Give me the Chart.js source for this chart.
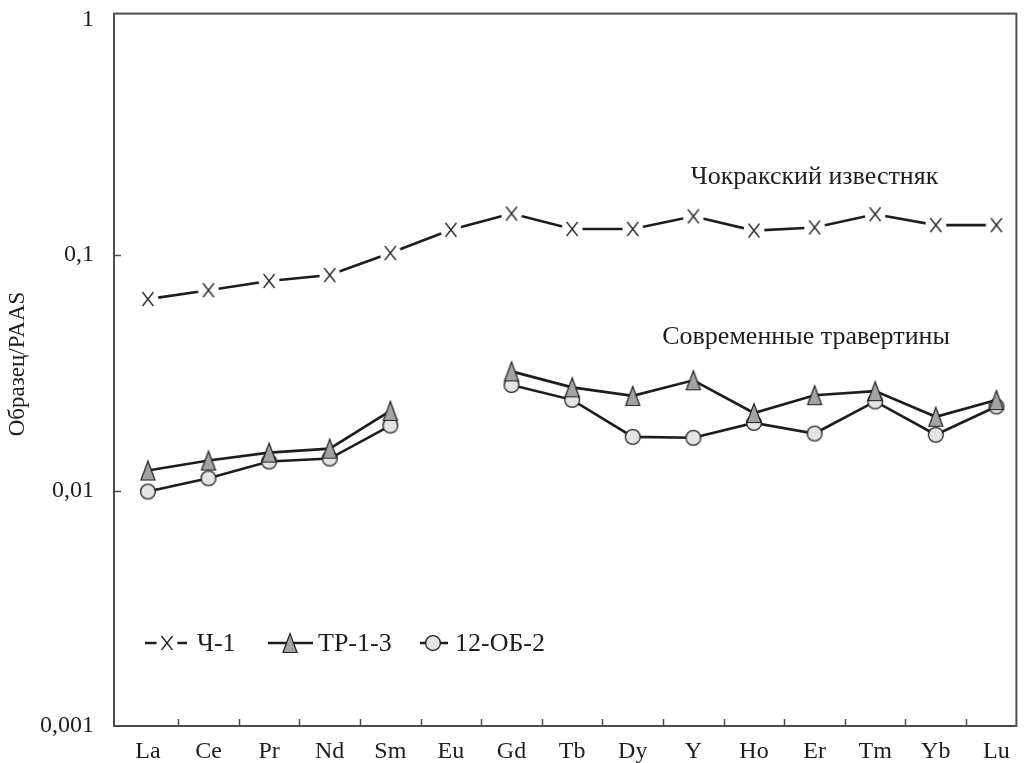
<!DOCTYPE html>
<html>
<head>
<meta charset="utf-8">
<script src="https://cdn.jsdelivr.net/npm/chart.js@4.4.0/dist/chart.umd.min.js"></script>
<style>
  html, body { margin: 0; padding: 0; background: #ffffff; }
  #wrap { width: 1030px; height: 763px; position: relative; }
</style>
</head>
<body>
<div id="wrap"><canvas id="chart"></canvas></div>
<script>
// REE elements along the horizontal axis
const elements = ['La', 'Ce', 'Pr', 'Nd', 'Sm', 'Eu', 'Gd', 'Tb', 'Dy', 'Y', 'Ho', 'Er', 'Tm', 'Yb', 'Lu'];

// Sample / PAAS normalised concentrations
const ch1   = [0.065, 0.0709, 0.0776, 0.0822, 0.102, 0.128, 0.150, 0.129, 0.129, 0.146, 0.127, 0.131, 0.149, 0.134, 0.134];
const tr13  = [0.01216, 0.01341, 0.01449, 0.01506, 0.02178, null, 0.03206, 0.02742, 0.02523, 0.02938, 0.02134, 0.0254, 0.02642, 0.02056, 0.02421];
const ob12  = [0.0099, 0.01127, 0.01328, 0.01367, 0.01888, null, 0.02806, 0.02427, 0.0169, 0.01675, 0.01937, 0.01746, 0.02389, 0.01725, 0.02275];

// Logarithmic axis ticks and their labels
const yTickValues = [0.001, 0.01, 0.1, 1];
const yTickLabels = ['0,001', '0,01', '0,1', '1'];

const seriesNames = ['Ч-1', 'ТР-1-3', '12-ОБ-2'];
const groupLabels = ['Чокракский известняк', 'Современные травертины'];

const FONT = '"Liberation Serif", "Times New Roman", serif';
const INK = '#1d1d1d';
const FRAME = '#4d4d4d';

// Marker images
function makeCross() {
  const c = document.createElement('canvas');
  c.width = 22; c.height = 22;
  const g = c.getContext('2d');
  g.fillStyle = '#ffffff';
  g.beginPath(); g.arc(11, 11, 10.5, 0, Math.PI * 2); g.fill();
  g.strokeStyle = '#222222';
  g.lineWidth = 1.3;
  g.beginPath();
  g.moveTo(5.5, 4); g.lineTo(16.5, 18);
  g.moveTo(16.5, 4); g.lineTo(5.5, 18);
  g.stroke();
  return c;
}
function makeTriangle() {
  const c = document.createElement('canvas');
  c.width = 18; c.height = 24;
  const g = c.getContext('2d');
  g.fillStyle = '#a3a3a3';
  g.strokeStyle = '#222222';
  g.lineWidth = 1.2;
  g.beginPath();
  g.moveTo(9, 2.5); g.lineTo(16, 21.5); g.lineTo(2, 21.5); g.closePath();
  g.fill(); g.stroke();
  return c;
}
function makeCircle() {
  const c = document.createElement('canvas');
  c.width = 18; c.height = 18;
  const g = c.getContext('2d');
  g.fillStyle = '#e4e4e6';
  g.strokeStyle = '#222222';
  g.lineWidth = 1.3;
  g.beginPath(); g.arc(9, 9, 7.4, 0, Math.PI * 2);
  g.fill(); g.stroke();
  return c;
}
const crossImg = makeCross();
const triImg = makeTriangle();
const circImg = makeCircle();
const markers = [crossImg, triImg, circImg];

function toPoints(arr) {
  return arr.map((v, i) => ({ x: i, y: v }));
}

// Frame, inward ticks, axis title, legend and group captions
const decorations = {
  id: 'decorations',
  afterDraw(chart) {
    const { ctx, chartArea: a, scales } = chart;
    const xs = scales.x, ys = scales.y;
    ctx.save();
    // frame
    ctx.strokeStyle = FRAME;
    ctx.lineWidth = 2;
    ctx.strokeRect(a.left, a.top, a.right - a.left, a.bottom - a.top);
    // inward tick marks on the value axis
    ctx.lineWidth = 1.5;
    ctx.beginPath();
    [0.01, 0.1].forEach(v => {
      const y = Math.round(ys.getPixelForValue(v)) + 0.5;
      ctx.moveTo(a.left, y); ctx.lineTo(a.left + 7, y);
    });
    // inward tick marks between categories
    for (let i = 0; i < elements.length - 1; i++) {
      const x = Math.round(xs.getPixelForValue(i + 0.5)) + 0.5;
      ctx.moveTo(x, a.bottom); ctx.lineTo(x, a.bottom - 7);
    }
    ctx.stroke();

    // axis title
    ctx.fillStyle = INK;
    ctx.font = '23px ' + FONT;
    ctx.textAlign = 'center';
    ctx.textBaseline = 'middle';
    ctx.save();
    ctx.translate(18, 364);
    ctx.rotate(-Math.PI / 2);
    ctx.fillText('Образец/PAAS', 0, 0);
    ctx.restore();

    // group captions
    ctx.font = '26px ' + FONT;
    ctx.textAlign = 'center';
    ctx.fillText(groupLabels[0], xs.getPixelForValue(11.0), ys.getPixelForValue(0.214));
    ctx.fillText(groupLabels[1], xs.getPixelForValue(10.86), ys.getPixelForValue(0.045));

    // legend
    ctx.font = '26px ' + FONT;
    const ly = a.bottom - 83;
    const items = [
      { x0: a.left + 31, x1: a.left + 73, mx: a.left + 53, tx: a.left + 83 },
      { x0: a.left + 154, x1: a.left + 199, mx: a.left + 176, tx: a.left + 204 },
      { x0: a.left + 306, x1: a.left + 334, mx: a.left + 319, tx: a.left + 341 }
    ];
    items.forEach((it, k) => {
      ctx.strokeStyle = INK;
      ctx.lineWidth = 2.5;
      ctx.beginPath();
      ctx.moveTo(it.x0, ly); ctx.lineTo(it.x1, ly);
      ctx.stroke();
      const m = markers[k];
      ctx.drawImage(m, it.mx - m.width / 2, ly - m.height / 2);
      ctx.fillStyle = INK;
      ctx.textAlign = 'left';
      ctx.fillText(seriesNames[k], it.tx, ly + 1);
    });
    ctx.restore();
  }
};

const lineStyle = {
  borderColor: INK,
  borderWidth: 2.6,
  tension: 0,
  spanGaps: false,
  xAxisID: 'x',
  yAxisID: 'y'
};

new Chart(document.getElementById('chart'), {
  type: 'line',
  data: {
    datasets: [
      Object.assign({}, lineStyle, { label: seriesNames[0], data: toPoints(ch1), pointStyle: crossImg, pointRadius: 11 }),
      Object.assign({}, lineStyle, { label: seriesNames[1], data: toPoints(tr13), pointStyle: triImg, pointRadius: 10 }),
      Object.assign({}, lineStyle, { label: seriesNames[2], data: toPoints(ob12), pointStyle: circImg, pointRadius: 9 })
    ]
  },
  options: {
    responsive: true,
    maintainAspectRatio: false,
    animation: false,
    events: [],
    layout: { padding: { top: 6, right: 7, left: 0, bottom: 0 } },
    plugins: {
      legend: { display: false },
      tooltip: { enabled: false }
    },
    scales: {
      x: {
        type: 'linear',
        min: -0.559,
        max: 14.33,
        border: { display: false },
        grid: { display: false },
        afterBuildTicks(scale) {
          scale.ticks = elements.map((_, i) => ({ value: i }));
        },
        afterFit(scale) {
          scale.height = 37;
          scale.paddingLeft = 0;
          scale.paddingRight = 0;
        },
        ticks: {
          autoSkip: false,
          maxRotation: 0,
          padding: 3,
          color: INK,
          font: { family: FONT, size: 24 },
          callback: (v) => elements[v] ?? ''
        }
      },
      y: {
        type: 'logarithmic',
        min: 0.001,
        max: 1.06,
        border: { display: false },
        grid: { display: false },
        afterBuildTicks(scale) {
          scale.ticks = yTickValues.map(v => ({ value: v }));
        },
        afterFit(scale) {
          scale.width = 114;
          scale.paddingTop = 0;
          scale.paddingBottom = 0;
        },
        ticks: {
          padding: 12,
          color: INK,
          font: { family: FONT, size: 24 },
          callback: (v) => {
            const k = yTickValues.findIndex(t => Math.abs(t - v) / t < 1e-6);
            return k >= 0 ? yTickLabels[k] : '';
          }
        }
      }
    }
  },
  plugins: [decorations]
});
</script>
</body>
</html>
